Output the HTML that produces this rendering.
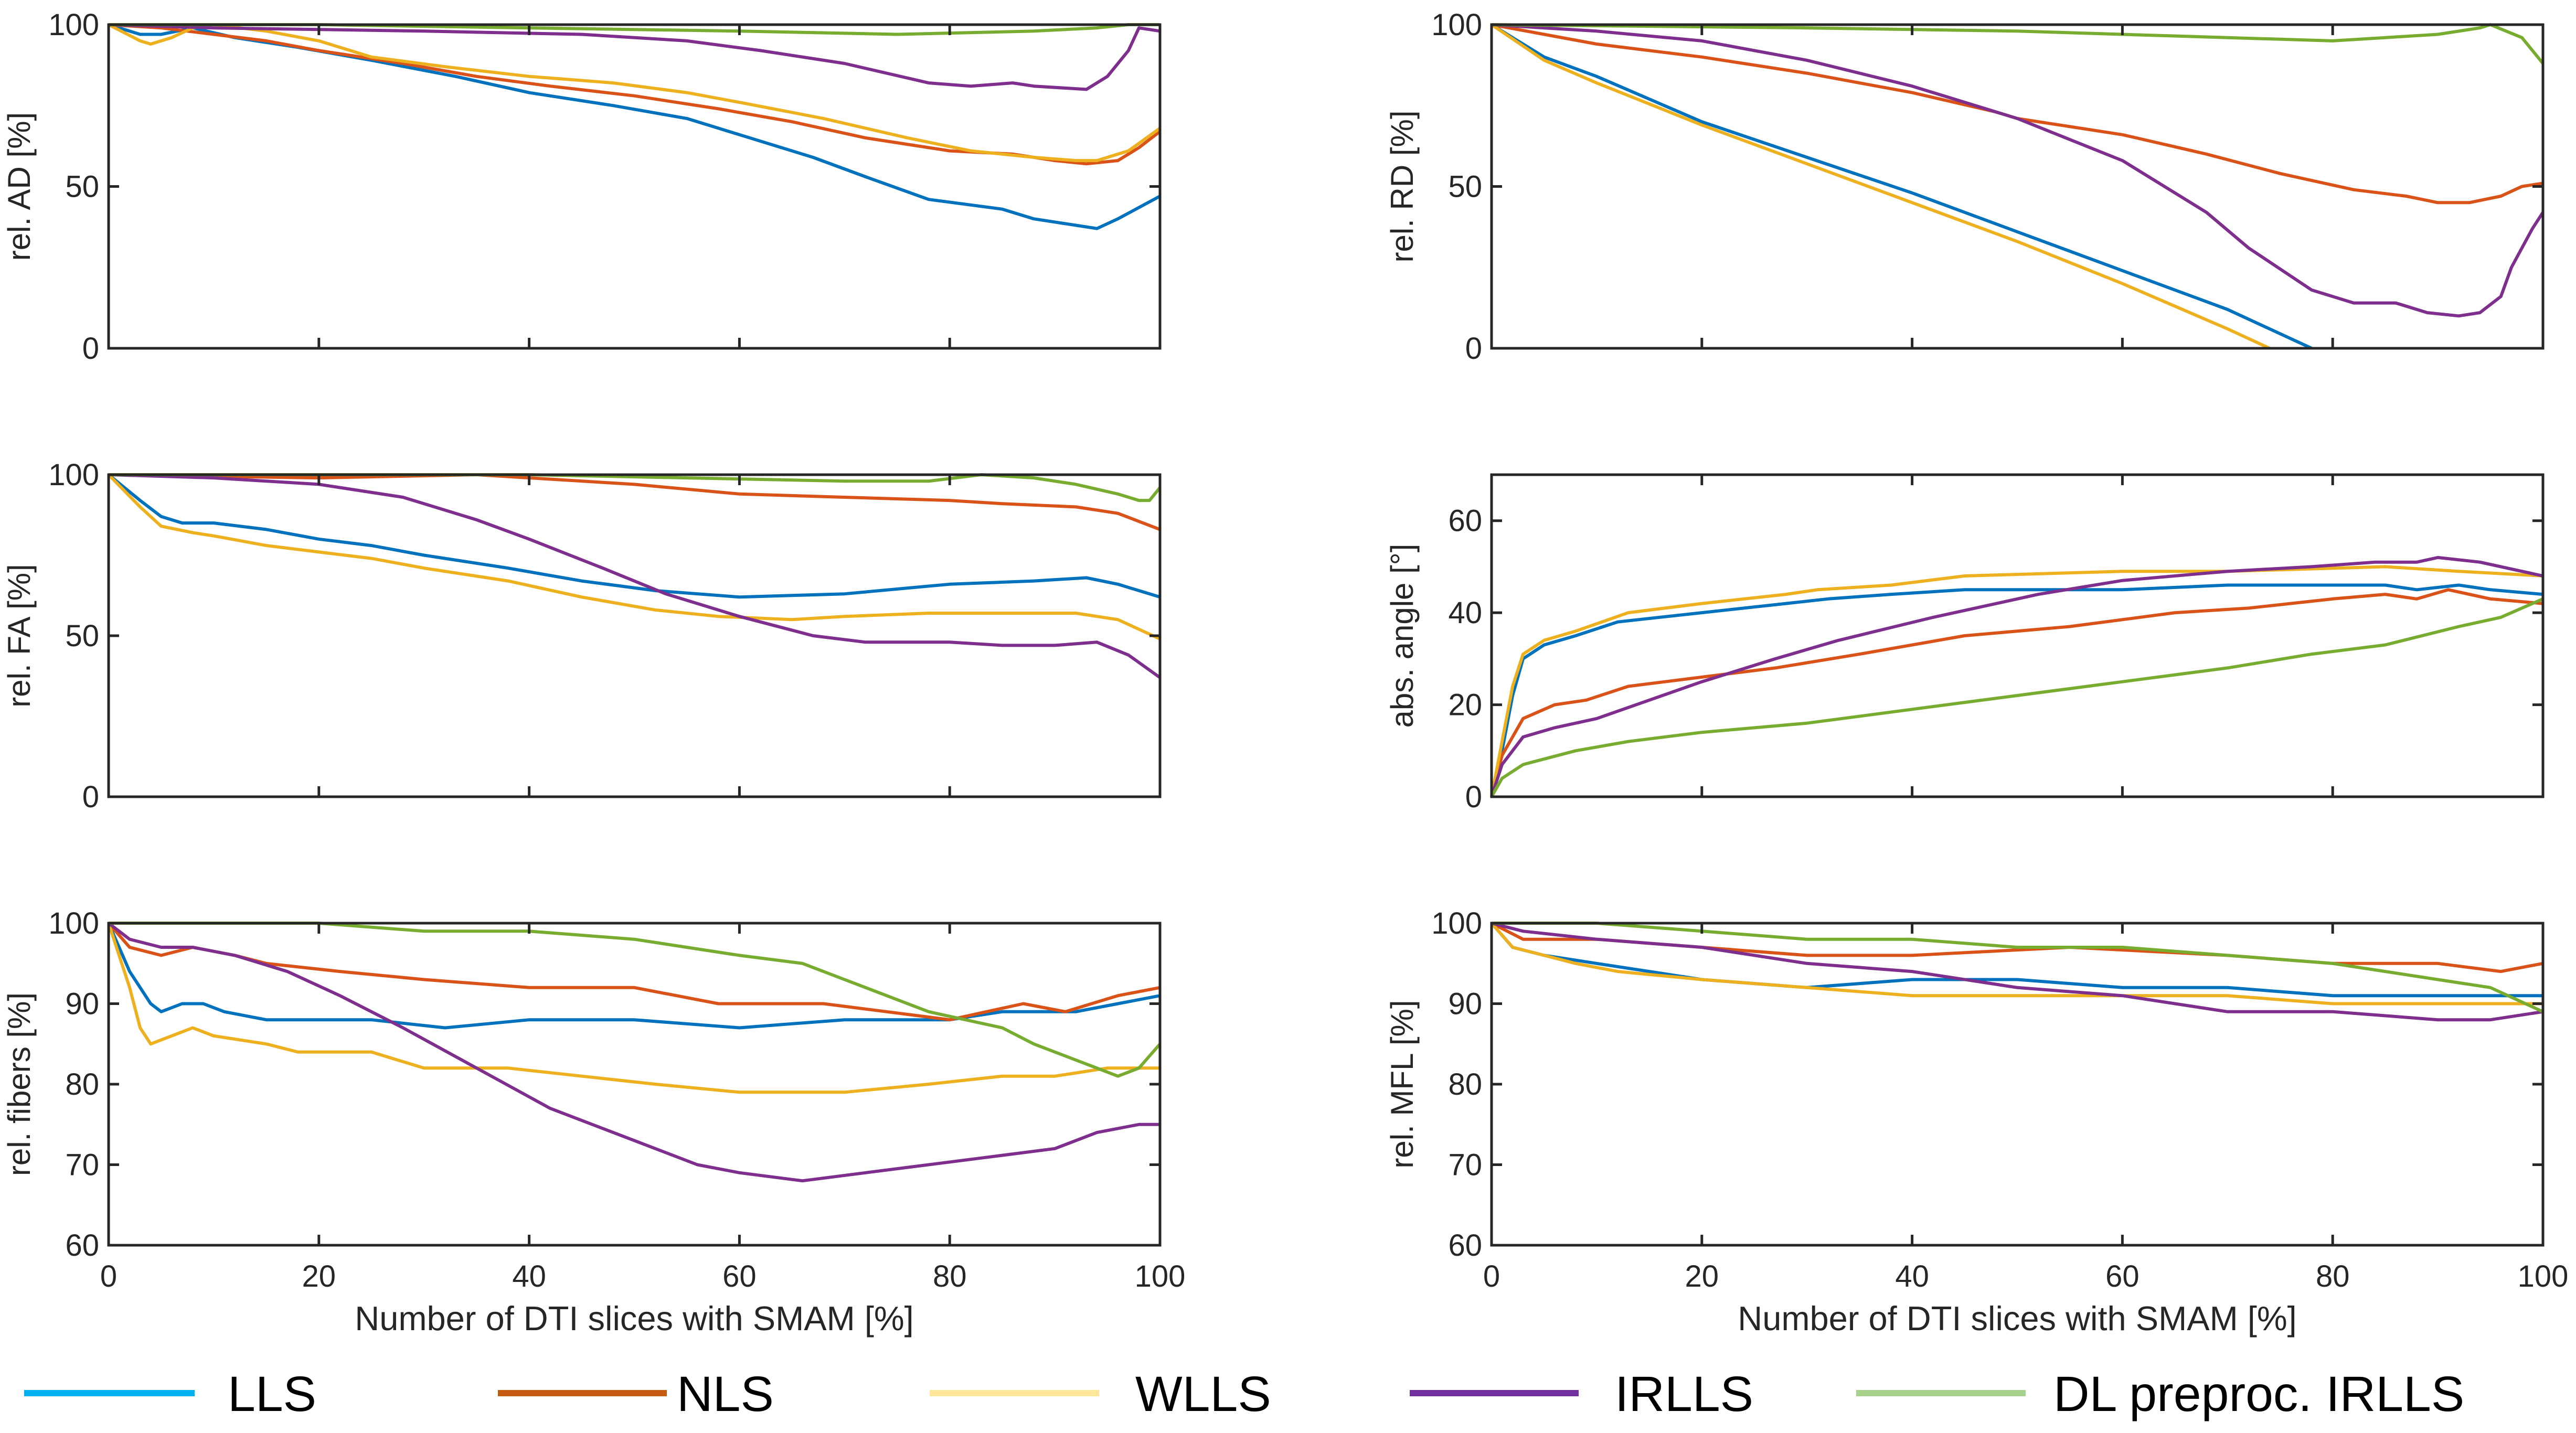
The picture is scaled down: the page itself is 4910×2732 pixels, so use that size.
<!DOCTYPE html>
<html><head><meta charset="utf-8">
<style>
html,body{margin:0;padding:0;background:#fff;}
svg{display:block;font-family:"Liberation Sans",Arial,sans-serif;}
</style></head>
<body>
<svg id="chart" width="4910" height="2732" viewBox="0 0 4910 2732" xmlns="http://www.w3.org/2000/svg"></svg>
<script>
// ---- data (x = % slices with SMAM, y = value) ----
const xTicks = [0,20,40,60,80,100];
const seriesNames = ["LLS","NLS","WLLS","IRLLS","DL preproc. IRLLS"];
// rel. AD
const adLLS = [[0,100],[3,97],[5,97],[8,99],[12,96],[18,93],[25,89],[33,84],[40,79],[48,75],[55,71],[60,66],[67,59],[72,53],[78,46],[85,43],[88,40],[92,38],[94,37],[96,40],[100,47]];
const adNLS = [[0,100],[5,99],[10,97],[15,95],[20,92],[28,88],[35,84],[42,81],[50,78],[58,74],[65,70],[72,65],[80,61],[86,60],[90,58],[93,57],[96,58],[98,62],[100,67]];
const adWLLS = [[0,100],[3,95],[4,94],[6,96],[8,99],[10,100],[15,98],[20,95],[25,90],[32,87],[40,84],[48,82],[55,79],[60,76],[68,71],[76,65],[82,61],[88,59],[92,58],[94,58],[97,61],[100,68]];
const adIRLLS = [[0,100],[10,99],[30,98],[45,97],[55,95],[62,92],[70,88],[78,82],[82,81],[86,82],[88,81],[93,80],[95,84],[97,92],[98,99],[100,98]];
const adDL = [[0,100],[20,100],[40,99],[60,98],[75,97],[88,98],[94,99],[97,100],[100,100]];
// rel. RD
const rdLLS = [[0,100],[5,90],[10,84],[15,77],[20,70],[30,59],[40,48],[50,36],[60,24],[70,12],[78,0]];
const rdNLS = [[0,100],[5,97],[10,94],[20,90],[30,85],[40,79],[48,73],[50,71],[60,66],[68,60],[75,54],[82,49],[87,47],[90,45],[93,45],[96,47],[98,50],[100,51]];
const rdWLLS = [[0,100],[5,89],[10,82],[20,69],[30,57],[40,45],[50,33],[60,20],[70,6],[74,0]];
const rdIRLLS = [[0,100],[5,99],[10,98],[20,95],[30,89],[40,81],[50,71],[60,58],[68,42],[72,31],[78,18],[82,14],[86,14],[89,11],[92,10],[94,11],[96,16],[97,25],[99,37],[100,42]];
const rdDL = [[0,100],[30,99],[50,98],[70,96],[80,95],[85,96],[90,97],[94,99],[95,100],[98,96],[100,88]];
// rel. FA
const faLLS = [[0,100],[3,92],[5,87],[7,85],[10,85],[15,83],[20,80],[25,78],[30,75],[38,71],[45,67],[52,64],[60,62],[70,63],[80,66],[88,67],[93,68],[96,66],[100,62]];
const faNLS = [[0,100],[20,99],[35,100],[40,99],[50,97],[60,94],[70,93],[80,92],[85,91],[92,90],[96,88],[100,83]];
const faWLLS = [[0,100],[3,90],[5,84],[8,82],[10,81],[15,78],[20,76],[25,74],[30,71],[38,67],[45,62],[52,58],[58,56],[65,55],[70,56],[78,57],[85,57],[92,57],[96,55],[100,49]];
const faIRLLS = [[0,100],[10,99],[20,97],[28,93],[35,86],[40,80],[47,71],[53,63],[60,56],[67,50],[72,48],[80,48],[85,47],[90,47],[94,48],[97,44],[100,37]];
const faDL = [[0,100],[30,100],[40,100],[55,99],[70,98],[78,98],[83,100],[88,99],[92,97],[96,94],[98,92],[99,92],[100,96]];
// abs. angle
const anLLS = [[0,0],[1,10],[2,22],[3,30],[5,33],[8,35],[12,38],[20,40],[28,42],[32,43],[38,44],[45,45],[60,45],[70,46],[80,46],[85,46],[88,45],[92,46],[95,45],[100,44]];
const anNLS = [[0,0],[1,9],[3,17],[6,20],[9,21],[13,24],[20,26],[27,28],[35,31],[45,35],[55,37],[65,40],[72,41],[80,43],[85,44],[88,43],[91,45],[95,43],[100,42]];
const anWLLS = [[0,0],[1,12],[2,24],[3,31],[5,34],[8,36],[13,40],[20,42],[28,44],[31,45],[38,46],[45,48],[60,49],[70,49],[85,50],[92,49],[100,48]];
const anIRLLS = [[0,0],[1,7],[3,13],[6,15],[10,17],[15,21],[20,25],[27,30],[33,34],[42,39],[52,44],[60,47],[70,49],[78,50],[84,51],[88,51],[90,52],[94,51],[100,48]];
const anDL = [[0,0],[1,4],[3,7],[8,10],[13,12],[20,14],[30,16],[40,19],[50,22],[60,25],[70,28],[78,31],[85,33],[92,37],[96,39],[100,43]];
// rel. fibers
const fbLLS = [[0,100],[2,94],[4,90],[5,89],[7,90],[9,90],[11,89],[15,88],[20,88],[25,88],[32,87],[40,88],[50,88],[60,87],[70,88],[80,88],[85,89],[88,89],[92,89],[96,90],[100,91]];
const fbNLS = [[0,100],[2,97],[5,96],[8,97],[12,96],[15,95],[22,94],[30,93],[40,92],[50,92],[58,90],[68,90],[74,89],[80,88],[87,90],[91,89],[96,91],[100,92]];
const fbWLLS = [[0,100],[2,92],[3,87],[4,85],[6,86],[8,87],[10,86],[15,85],[18,84],[25,84],[30,82],[38,82],[45,81],[52,80],[60,79],[70,79],[78,80],[85,81],[90,81],[95,82],[100,82]];
const fbIRLLS = [[0,100],[2,98],[5,97],[8,97],[12,96],[17,94],[22,91],[28,87],[35,82],[42,77],[50,73],[56,70],[60,69],[66,68],[72,69],[78,70],[84,71],[90,72],[94,74],[98,75],[100,75]];
const fbDL = [[0,100],[10,100],[20,100],[30,99],[40,99],[50,98],[60,96],[66,95],[70,93],[78,89],[85,87],[88,85],[94,82],[96,81],[98,82],[100,85]];
// rel. MFL
const mfLLS = [[0,100],[2,97],[5,96],[10,95],[15,94],[20,93],[30,92],[40,93],[50,93],[60,92],[70,92],[80,91],[90,91],[100,91]];
const mfNLS = [[0,100],[3,98],[10,98],[20,97],[30,96],[40,96],[55,97],[70,96],[80,95],[90,95],[96,94],[100,95]];
const mfWLLS = [[0,100],[2,97],[5,96],[8,95],[12,94],[20,93],[30,92],[40,91],[60,91],[70,91],[80,90],[90,90],[100,90]];
const mfIRLLS = [[0,100],[3,99],[10,98],[20,97],[30,95],[40,94],[50,92],[60,91],[70,89],[80,89],[90,88],[95,88],[100,89]];
const mfDL = [[0,100],[10,100],[20,99],[30,98],[40,98],[50,97],[60,97],[70,96],[80,95],[85,94],[90,93],[95,92],[100,89]];

const colors = ["#0072BD","#D95319","#EDB120","#7E2F8E","#77AC30"];
const legendColors = ["#00B0F0","#C55A11","#FFE699","#7030A0","#A9D18E"];
const NS = "http://www.w3.org/2000/svg";
const svg = document.getElementById("chart");
function mk(tag, attrs, parent){const e=document.createElementNS(NS,tag);for(const k in attrs)e.setAttribute(k,attrs[k]);(parent||svg).appendChild(e);return e;}

const panels = [
 {id:"ad",label:"rel. AD [%]",x0:207,x1:2211,y0:47,y1:664,min:0,max:100,ticks:[0,50,100],data:[adLLS,adNLS,adWLLS,adIRLLS,adDL],xl:false},
 {id:"rd",label:"rel. RD [%]",x0:2843,x1:4847,y0:47,y1:664,min:0,max:100,ticks:[0,50,100],data:[rdLLS,rdNLS,rdWLLS,rdIRLLS,rdDL],xl:false},
 {id:"fa",label:"rel. FA [%]",x0:207,x1:2211,y0:905,y1:1519,min:0,max:100,ticks:[0,50,100],data:[faLLS,faNLS,faWLLS,faIRLLS,faDL],xl:false},
 {id:"angle",label:"abs. angle [°]",x0:2843,x1:4847,y0:905,y1:1519,min:0,max:70,ticks:[0,20,40,60],data:[anLLS,anNLS,anWLLS,anIRLLS,anDL],xl:false},
 {id:"fibers",label:"rel. fibers [%]",x0:207,x1:2211,y0:1760,y1:2374,min:60,max:100,ticks:[60,70,80,90,100],data:[fbLLS,fbNLS,fbWLLS,fbIRLLS,fbDL],xl:true},
 {id:"mfl",label:"rel. MFL [%]",x0:2843,x1:4847,y0:1760,y1:2374,min:60,max:100,ticks:[60,70,80,90,100],data:[mfLLS,mfNLS,mfWLLS,mfIRLLS,mfDL],xl:true}
];

panels.forEach(p=>{
  const g = mk("g",{});
  
  
  const X = v => p.x0 + (v/100)*(p.x1-p.x0);
  const Y = v => p.y1 - (v-p.min)/(p.max-p.min)*(p.y1-p.y0);
  p.data.forEach((s,i)=>{
    const pl = mk("polyline",{points:s.map(d=>X(d[0]).toFixed(1)+","+Y(d[1]).toFixed(1)).join(" "),fill:"none",stroke:colors[i],"stroke-width":6,"stroke-linejoin":"round"},g);
    
    
  });
  const box = mk("rect",{x:p.x0,y:p.y0,width:p.x1-p.x0,height:p.y1-p.y0,fill:"none",stroke:"#262626","stroke-width":5},g);
  
  
  p.ticks.forEach(t=>{
    const y=Y(t);
    mk("line",{x1:p.x0,x2:p.x0+20,y1:y,y2:y,stroke:"#262626","stroke-width":5},g);
    mk("line",{x1:p.x1,x2:p.x1-20,y1:y,y2:y,stroke:"#262626","stroke-width":5},g);
    const tx = mk("text",{x:p.x0-18,y:y+20,"text-anchor":"end","font-size":58,fill:"#262626"},g);
    tx.textContent=t;
    
    
  });
  xTicks.forEach(t=>{
    const x=X(t);
    mk("line",{x1:x,x2:x,y1:p.y1,y2:p.y1-20,stroke:"#262626","stroke-width":5},g);
    mk("line",{x1:x,x2:x,y1:p.y0,y2:p.y0+20,stroke:"#262626","stroke-width":5},g);
    if(p.xl){
      const tx = mk("text",{x:x,y:p.y1+79,"text-anchor":"middle","font-size":58,fill:"#262626"},g);
      tx.textContent=t;
      
      
    }
  });
  const cy=(p.y0+p.y1)/2, lx=p.x0-150;
  const yl = mk("text",{x:lx,y:cy,"text-anchor":"middle","font-size":60,fill:"#262626",transform:`rotate(-90 ${lx} ${cy})`},g);
  yl.textContent=p.label;
  
  
  if(p.xl){
    const xl = mk("text",{x:(p.x0+p.x1)/2,y:p.y1+162,"text-anchor":"middle","font-size":65,fill:"#262626"},g);
    xl.textContent="Number of DTI slices with SMAM [%]";
    
    
  }
});

const legX = [[46,371,434],[949,1271,1290],[1772,2095,2164],[2687,3009,3078],[3538,3861,3914]];
const lg = mk("g",{});


seriesNames.forEach((n,i)=>{
  const ln = mk("line",{x1:legX[i][0],x2:legX[i][1],y1:2656,y2:2656,stroke:legendColors[i],"stroke-width":12},lg);
  
  
  const t = mk("text",{x:legX[i][2],y:2690,"font-size":95,fill:"#000"},lg);
  t.textContent=n;
  
  
});
</script>
</body></html>
